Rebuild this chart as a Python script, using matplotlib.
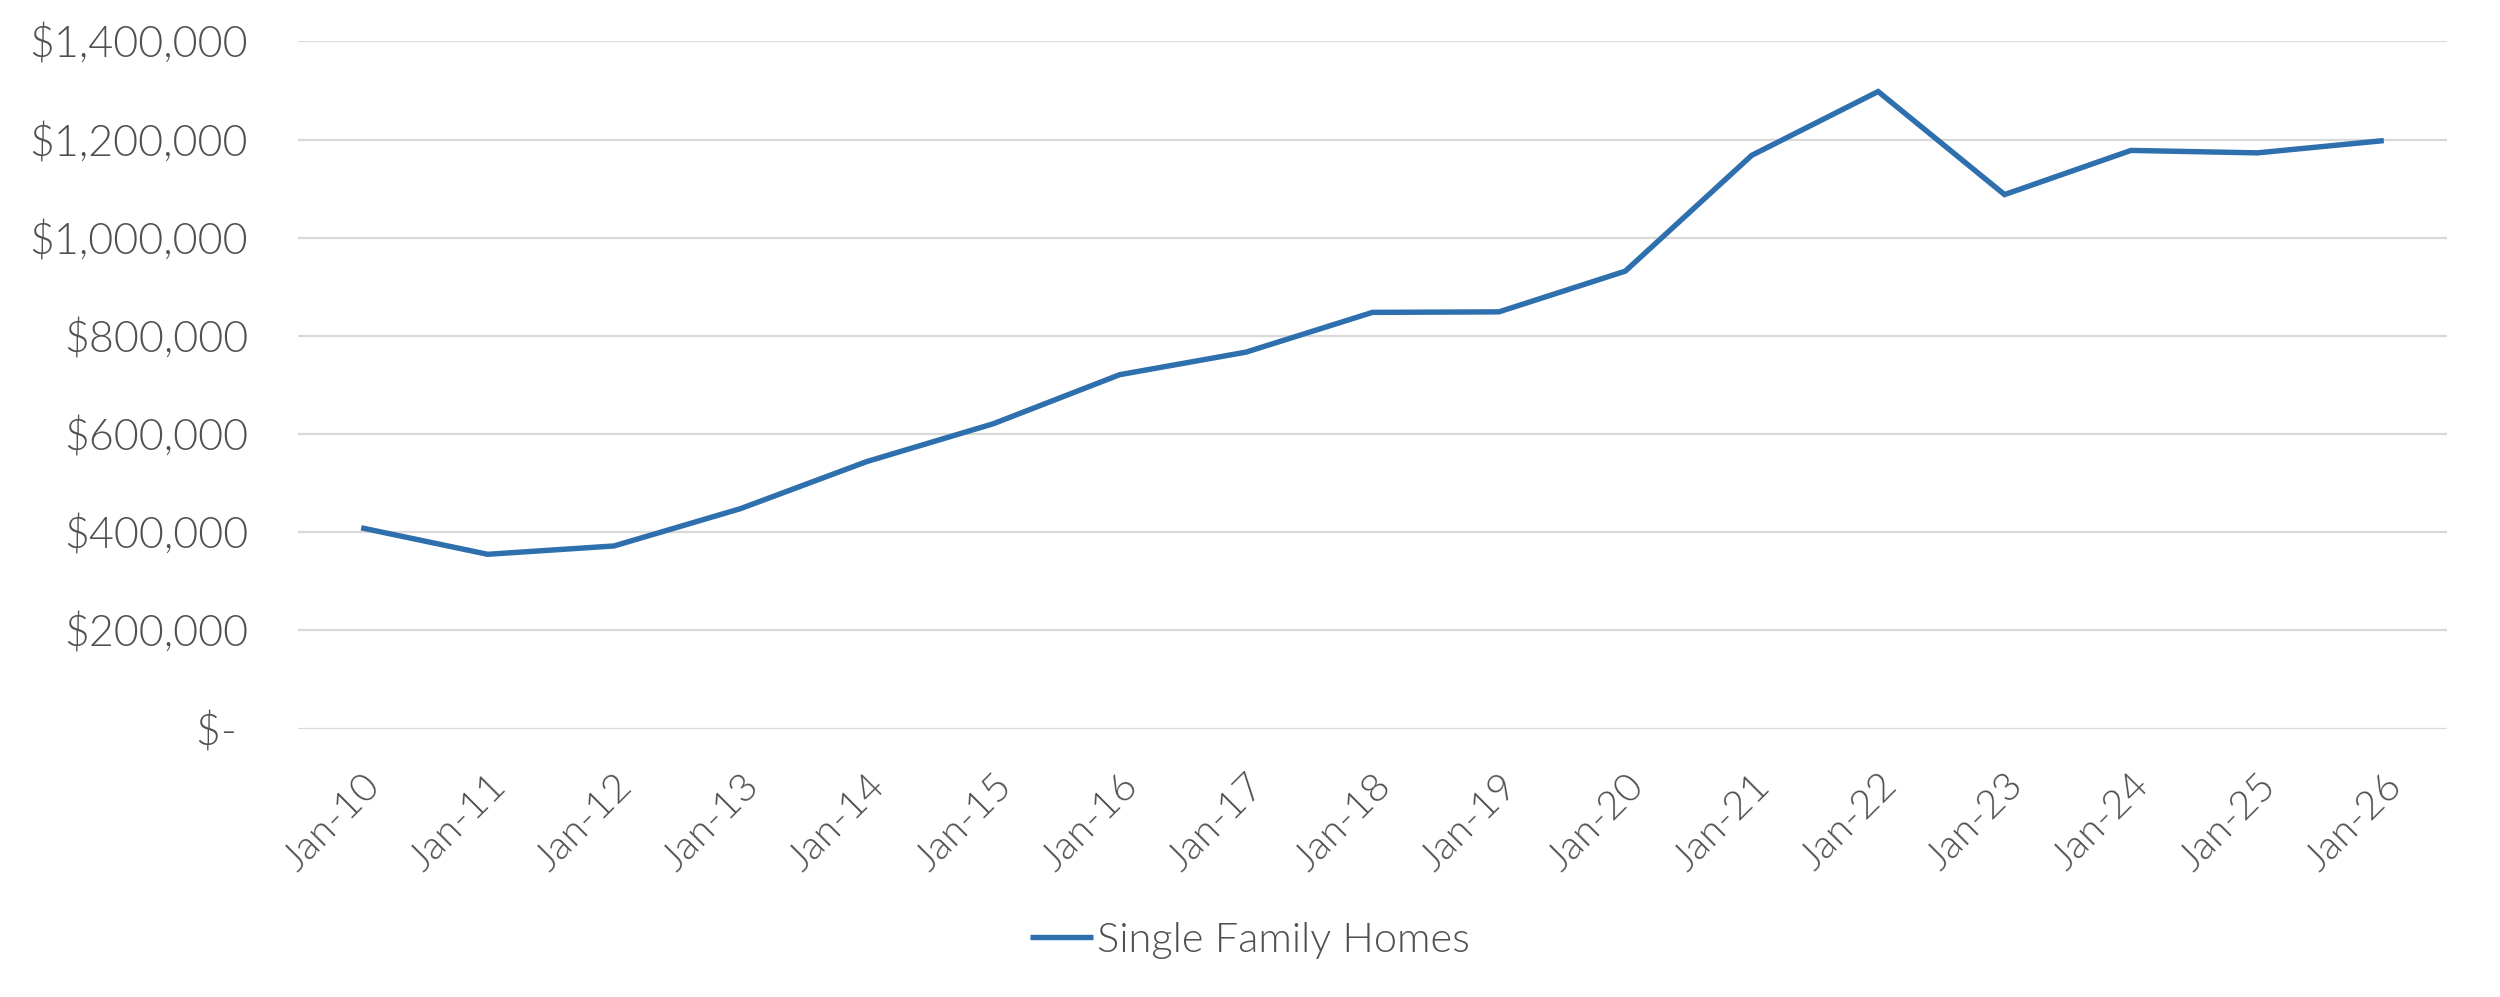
import matplotlib
matplotlib.use("Agg")
import matplotlib.pyplot as plt

# datos
meses = ["Jan-10", "Jan-11", "Jan-12", "Jan-13", "Jan-14", "Jan-15", "Jan-16", "Jan-17",
         "Jan-18", "Jan-19", "Jan-20", "Jan-21", "Jan-22", "Jan-23", "Jan-24", "Jan-25", "Jan-26"]
precios = [409000, 355000, 372000, 448000, 544000, 621000, 721000, 767000,
           848000, 849000, 932000, 1168000, 1298000, 1088000, 1178000, 1173000, 1198000]
y_ticks = [0, 200000, 400000, 600000, 800000, 1000000, 1200000, 1400000]
y_labels = ["$- ", "$200,000", "$400,000", "$600,000", "$800,000",
            "$1,000,000", "$1,200,000", "$1,400,000"]

gris = "#505050"
azul = "#2E6FAD"
peso = 300

plt.rcParams["font.family"] = ["Lato", "DejaVu Sans"]

fig = plt.figure(figsize=(25, 9.97), dpi=100)
ax = fig.add_axes([0.1192, 0.2693, 0.8596, 0.6891])

x = list(range(len(meses)))
linea, = ax.plot(x, precios, color=azul, linewidth=3.9, solid_joinstyle="miter",
                 solid_capstyle="butt", label="Single Family Homes", zorder=3)

ax.set_xlim(-0.5, len(meses) - 0.5)
ax.set_ylim(0, 1400000)
ax.set_yticks(y_ticks)
ax.set_yticklabels(y_labels)
ax.set_xticks(x)
ax.set_xticklabels(meses, rotation=45, ha="right", rotation_mode="anchor")

for t in ax.get_yticklabels():
    t.set_fontsize(31)
    t.set_color(gris)
    t.set_fontweight(peso)
for t in ax.get_xticklabels():
    t.set_fontsize(29)
    t.set_color(gris)
    t.set_fontweight(peso)

ax.tick_params(axis="y", length=0, pad=36)
ax.tick_params(axis="x", length=0, pad=28)

ax.grid(axis="y", color="#D9D9D9", linewidth=1.6)
ax.set_axisbelow(True)
for s in ax.spines.values():
    s.set_visible(False)

leg = fig.legend(handles=[linea], loc="center", bbox_to_anchor=(0.5, 0.057),
                 frameon=False, handlelength=1.5, handletextpad=0.1,
                 prop={"family": ["Lato", "DejaVu Sans"], "size": 30, "weight": peso})
for t in leg.get_texts():
    t.set_color(gris)

fig.savefig("out.png", dpi=100)
